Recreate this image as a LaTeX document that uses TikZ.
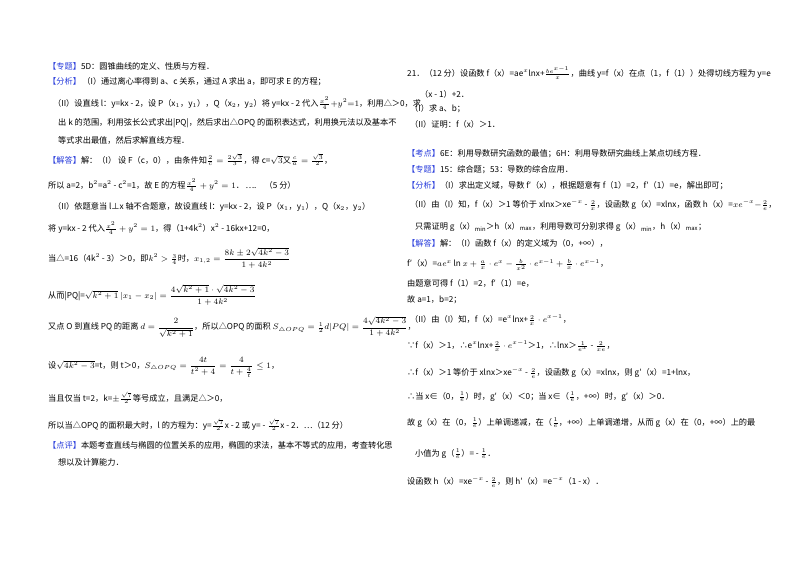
\documentclass[tikz,border=0pt]{standalone}
\usepackage{amsmath}
\usepackage{fontspec}
\setmainfont{Noto Sans CJK SC}
\definecolor{hd}{RGB}{40,60,220}
\begin{document}
\begin{tikzpicture}[x=0.03cm,y=-0.03cm]
\tikzset{ln/.style={anchor=west,inner sep=0pt,font=\fontsize{7}{9}\selectfont}}
\newcommand{\hdr}[1]{\textcolor{hd}{【#1】}}
\useasboundingbox[fill=white] (0,0) rectangle (800,565);
% left column
\node[ln] (l1) at (48,66) {\hdr{专题}5D：圆锥曲线的定义、性质与方程．};
\node[ln] (l2) at (48,82) {\hdr{分析}\,（I）通过离心率得到 a、c 关系，通过 A 求出 a，即可求 E 的方程；};
\node[ln] (l3) at (53,103) {（II）设直线 l：y=kx - 2，设 P（x$_1$，y$_1$），Q（x$_2$，y$_2$）将 y=kx - 2 代入$\frac{x^2}{4}{+}y^2{=}1$，利用△＞0，求};
\node[ln] (l4) at (58,123) {出 k 的范围，利用弦长公式求出|PQ|，然后求出△OPQ 的面积表达式，利用换元法以及基本不};
\node[ln] (l5) at (58,140) {等式求出最值，然后求解直线方程．};
\node[ln] (l6) at (48,160) {\hdr{解答}解：（I） 设 F（c，0），由条件知$\frac{2}{c}=\frac{2\sqrt3}{3}$，得 c=$\sqrt3$又$\frac{c}{a}=\frac{\sqrt3}{2}$，};
\node[ln] (l7) at (48,185) {所以 a=2，b$^2$=a$^2$ - c$^2$=1，故 E 的方程$\frac{x^2}{4}+y^2=1$．\,….\quad（5 分）};
\node[ln] (l8) at (53,207) {（II）依题意当 l⊥x 轴不合题意，故设直线 l：y=kx - 2，设 P（x$_1$，y$_1$），Q（x$_2$，y$_2$）};
\node[ln] (l9) at (48,228) {将 y=kx - 2 代入$\frac{x^2}{4}+y^2=1$，得（1+4k$^2$）x$^2$ - 16kx+12=0，};
\node[ln] (l10) at (48,258) {当△=16（4k$^2$ - 3）＞0，即$k^2>\frac34$时，$x_{1,2}=\dfrac{8k\pm2\sqrt{4k^2-3}}{1+4k^2}$};
\node[ln] (l11) at (48,295) {从而|PQ|=$\sqrt{k^2+1}\,|x_1-x_2|=\dfrac{4\sqrt{k^2+1}\cdot\sqrt{4k^2-3}}{1+4k^2}$};
\node[ln] (l12) at (48,327) {又点 O 到直线 PQ 的距离 $d=\dfrac{2}{\sqrt{k^2+1}}$，所以△OPQ 的面积 $S_{\triangle OPQ}=\frac12 d|PQ|=\dfrac{4\sqrt{4k^2-3}}{1+4k^2}$，};
\node[ln] (l13) at (48,367) {设$\sqrt{4k^2-3}$=t，则 t＞0，$S_{\triangle OPQ}=\dfrac{4t}{t^2+4}=\dfrac{4}{t+\frac4t}\leq1$，};
\node[ln] (l14) at (48,398) {当且仅当 t=2，k=$\pm\frac{\sqrt7}{2}$等号成立，且满足△＞0，};
\node[ln] (l15) at (48,425) {所以当△OPQ 的面积最大时，l 的方程为：y=$\frac{\sqrt7}{2}$x - 2 或 y= - $\frac{\sqrt7}{2}$x - 2．…（12 分）};
\node[ln] (l16) at (48,445) {\hdr{点评}本题考查直线与椭圆的位置关系的应用，椭圆的求法，基本不等式的应用，考查转化思};
\node[ln] (l17) at (58,462) {想以及计算能力．};
% right column
\node[ln] (r1) at (407,73) {21．（12 分）设函数 f（x）=ae$^x$lnx+$\frac{be^{x-1}}{x}$，曲线 y=f（x）在点（1，f（1））处得切线方程为 y=e};
\node[ln] (r2) at (420,94) {（x - 1）+2．};
\node[ln] (r3) at (410,109) {（I）求 a、b；};
\node[ln] (r4) at (410,124) {（II）证明：f（x）＞1．};
\node[ln] (r5) at (407,154) {\hdr{考点}6E：利用导数研究函数的最值；6H：利用导数研究曲线上某点切线方程．};
\node[ln] (r6) at (407,170) {\hdr{专题}15：综合题；53：导数的综合应用．};
\node[ln] (r7) at (407,186) {\hdr{分析}（I）求出定义域，导数 f′（x），根据题意有 f（1）=2，f′（1）=e，解出即可；};
\node[ln] (r8) at (410,205) {（II）由（I）知，f（x）＞1 等价于 xlnx＞xe$^{-x}$ - $\frac2x$，设函数 g（x）=xlnx，函数 h（x）=$xe^{-x}{-}\frac2e$，};
\node[ln] (r9) at (415,227) {只需证明 g（x）$_{\min}$＞h（x）$_{\max}$，利用导数可分别求得 g（x）$_{\min}$，h（x）$_{\max}$；};
\node[ln] (r10) at (407,243) {\hdr{解答}解：（I）函数 f（x）的定义域为（0，+∞），};
\node[ln] (r11) at (407,265) {f′（x）=$ae^x\ln x+\frac{a}{x}\cdot e^x-\frac{b}{x^2}\cdot e^{x-1}+\frac{b}{x}\cdot e^{x-1}$，};
\node[ln] (r12) at (407,283) {由题意可得 f（1）=2，f′（1）=e，};
\node[ln] (r13) at (407,300) {故 a=1，b=2；};
\node[ln] (r14) at (410,320) {（II）由（I）知，f（x）=e$^x$lnx+$\frac2x\cdot e^{x-1}$，};
\node[ln] (r15) at (407,346) {∵f（x）＞1，∴e$^x$lnx+$\frac2x\cdot e^{x-1}$＞1，∴lnx＞$\frac{1}{e^x}$ - $\frac{2}{xe}$，};
\node[ln] (r16) at (407,373) {∴f（x）＞1 等价于 xlnx＞xe$^{-x}$ - $\frac2e$，设函数 g（x）=xlnx，则 g′（x）=1+lnx，};
\node[ln] (r17) at (407,397) {∴当 x∈（0，$\frac1e$）时，g′（x）＜0；当 x∈（$\frac1e$，+∞）时，g′（x）＞0．};
\node[ln] (r18) at (407,423) {故 g（x）在（0，$\frac1e$）上单调递减，在（$\frac1e$，+∞）上单调递增，从而 g（x）在（0，+∞）上的最};
\node[ln] (r19) at (415,454) {小值为 g（$\frac1e$）= - $\frac1e$．};
\node[ln] (r20) at (407,482) {设函数 h（x）=xe$^{-x}$ - $\frac2e$，则 h′（x）=e$^{-x}$（1 - x）．};
\end{tikzpicture}
\end{document}
